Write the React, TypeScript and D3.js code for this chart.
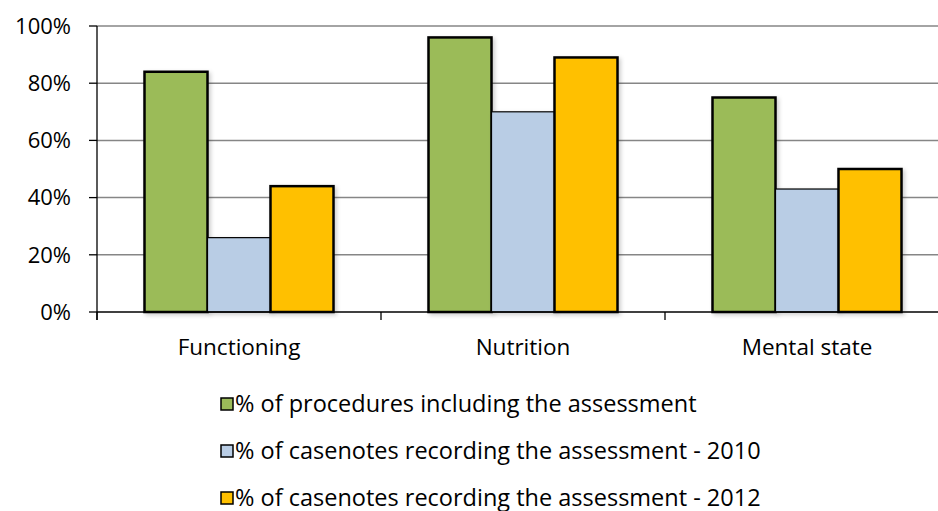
import * as d3 from 'd3'

const categories = ['Functioning', 'Nutrition', 'Mental state']
const seriesNames = [
  '% of procedures including the assessment',
  '% of casenotes recording the assessment - 2010',
  '% of casenotes recording the assessment - 2012',
]
const procedures = [84, 96, 75]
const casenotes2010 = [26, 70, 43]
const casenotes2012 = [44, 89, 50]
const yTicks = [0, 20, 40, 60, 80, 100]

const colors = ['#9BBB59', '#B9CDE5', '#FFC000']
const strokeW = [2.5, 1.2, 2.5]

const W = 938
const H = 511
const margin = { top: 26, left: 97, bottom: 199 }
const plotRight = 949
const font = '"Open Sans", "Liberation Sans", sans-serif'

export default function App() {
  const series = [procedures, casenotes2010, casenotes2012]
  const x = d3.scaleBand<string>().domain(categories).range([margin.left, plotRight]).paddingInner(0).paddingOuter(0)
  const y = d3.scaleLinear().domain([0, 100]).range([H - margin.bottom, margin.top])
  const bw = x.bandwidth()
  const inner = d3
    .scaleBand<number>()
    .domain([0, 1, 2])
    .range([0, bw])
    .paddingOuter(0.754)
    .paddingInner(0)
  const y0 = y(0)

  return (
    <svg
      width={W}
      height={H}
      style={{ position: 'absolute', left: 0, top: 0, background: '#fff' }}
      fontFamily={font}
    >
      <defs>
        <filter id="sh" x="-20%" y="-20%" width="140%" height="140%">
          <feDropShadow dx="2" dy="2" stdDeviation="2" floodColor="#000" floodOpacity="0.2" />
        </filter>
      </defs>
      {/* grid */}
      {yTicks.slice(1).map(t => (
        <line key={t} x1={margin.left} x2={W} y1={y(t)} y2={y(t)} stroke="#868686" strokeWidth={1.5} />
      ))}
      {/* y labels + ticks */}
      {yTicks.map(t => (
        <g key={t}>
          <line x1={margin.left - 8} x2={margin.left} y1={y(t)} y2={y(t)} stroke="#000" strokeWidth={1.3} />
          <text x={71} y={y(t)} dy="0.35em" textAnchor="end" fontSize={22} fill="#000">
            {t}%
          </text>
        </g>
      ))}
      {/* bars */}
      {categories.map((c, ci) =>
        series.map((s, si) => (
          <rect
            key={c + si}
            x={(x(c) ?? 0) + (inner(si) ?? 0)}
            y={y(s[ci])}
            width={inner.bandwidth()}
            height={y0 - y(s[ci])}
            fill={colors[si]}
            stroke="#000"
            strokeWidth={strokeW[si]}
            filter="url(#sh)"
          />
        ))
      )}
      {/* axes */}
      <line x1={margin.left} x2={margin.left} y1={margin.top} y2={y0 + 8} stroke="#000" strokeWidth={1.3} />
      <line x1={margin.left} x2={W} y1={y0} y2={y0} stroke="#000" strokeWidth={1.3} />
      {categories.map(c => (
        <line key={c} x1={x(c)} x2={x(c)} y1={y0} y2={y0 + 8} stroke="#000" strokeWidth={1.3} />
      ))}
      {categories.map(c => (
        <text key={c} x={(x(c) ?? 0) + bw / 2} y={347} dy="0.35em" textAnchor="middle" fontSize={22.5} fill="#000">
          {c}
        </text>
      ))}
      {/* legend */}
      {seriesNames.map((n, i) => (
        <g key={n} transform={`translate(221,${404 + i * 47})`}>
          <rect x={0} y={-6} width={12} height={12} fill={colors[i]} stroke="#000" strokeWidth={1.5} />
          <text x={14} y={0} dy="0.35em" fontSize={23.5} fill="#000">
            {n}
          </text>
        </g>
      ))}
    </svg>
  )
}
